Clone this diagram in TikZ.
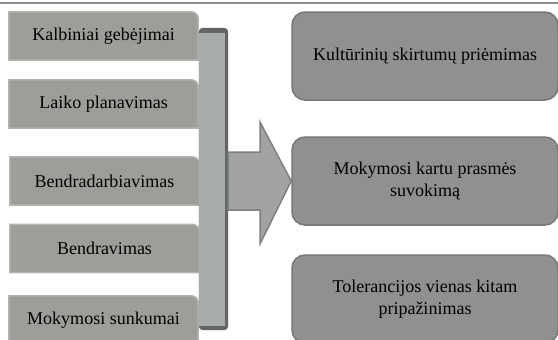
\documentclass[tikz,border=0pt]{standalone}
\usepackage{fontspec}
\setmainfont{Liberation Serif}
\pgfdeclarelayer{bg}
\pgfsetlayers{bg,main}
\definecolor{leftfill}{RGB}{157,157,153}
\definecolor{leftedge}{RGB}{180,180,176}
\definecolor{rightfill}{RGB}{143,144,145}
\definecolor{rightedge}{RGB}{118,119,120}
\definecolor{barlight}{RGB}{167,171,172}
\definecolor{bardark}{RGB}{98,102,103}
\definecolor{arrowfill}{RGB}{161,162,162}
\definecolor{arrowedge}{RGB}{128,128,128}
\definecolor{rulegray}{RGB}{140,140,140}
\tikzset{
  boxtext/.style={font=\fontsize{18}{22}\selectfont, text=black, align=center, inner sep=0pt},
  leftbox/.style={boxtext, minimum width=189pt, minimum height=48pt},
  leftframe/.style={fill=leftfill, draw=leftedge, line width=1.5pt},
  rightbox/.style={boxtext, minimum width=266pt, minimum height=88pt, rounded corners=13pt,
    fill=rightfill, draw=rightedge, line width=1.5pt},
}
% rectangle with only its upper right corner rounded
\newcommand{\tabframe}[1]{%
  \draw[leftframe] (#1.south west) -- (#1.north west) -- ([xshift=-7pt]#1.north east)
    arc[start angle=90, end angle=0, radius=7pt] -- (#1.south east) -- cycle;}
\begin{document}
\begin{tikzpicture}[x=1pt,y=-1pt]
\useasboundingbox (0,0) rectangle (558,340);
\clip (0,0) rectangle (558,340);
\begin{pgfonlayer}{bg}
  \fill[white] (0,0) rectangle (558,340);
\end{pgfonlayer}
\draw[rulegray, line width=1.2pt] (0,3) -- (558,3);

% source items
\node[leftbox] (k1) at (103.5,36)  {Kalbiniai gebėjimai};
\node[leftbox] (k2) at (103.5,104) {Laiko planavimas};
\node[leftbox] (k3) at (104.5,181) {Bendradarbiavimas};
\node[leftbox] (k4) at (104.5,248.5) {Bendravimas};
\node[leftbox] (k5) at (103.5,320) {Mokymosi sunkumai};
\begin{pgfonlayer}{bg}
  \foreach \n in {k1,k2,k3,k4,k5} {\tabframe{\n}}
\end{pgfonlayer}

% collecting bar
\node[minimum width=29pt, minimum height=302pt, inner sep=0pt] (bar) at (213.5,179) {};
\fill[bardark, rounded corners=4pt] (bar.south west) rectangle (bar.north east);
\fill[barlight] ([yshift=-5pt]bar.north west) rectangle ([xshift=-3pt,yshift=4pt]bar.south east);

% outcomes
\node[rightbox] (r1) at (425,56)  {Kultūrinių skirtumų priėmimas};
\node[rightbox] (r2) at (425,181) {Mokymosi kartu prasmės\\suvokimą};
\node[rightbox] (r3) at (425,299) {Tolerancijos vienas kitam\\pripažinimas};

% block arrow from the bar to the middle outcome
\draw[fill=arrowfill, draw=arrowedge, line width=1.5pt, line join=miter]
  (bar.east |- 0,152) -- (260,152) -- (260,122) -- (r2.west) -- (260,244)
  -- (260,210) -- (bar.east |- 0,210) -- cycle;
\end{tikzpicture}
\end{document}
